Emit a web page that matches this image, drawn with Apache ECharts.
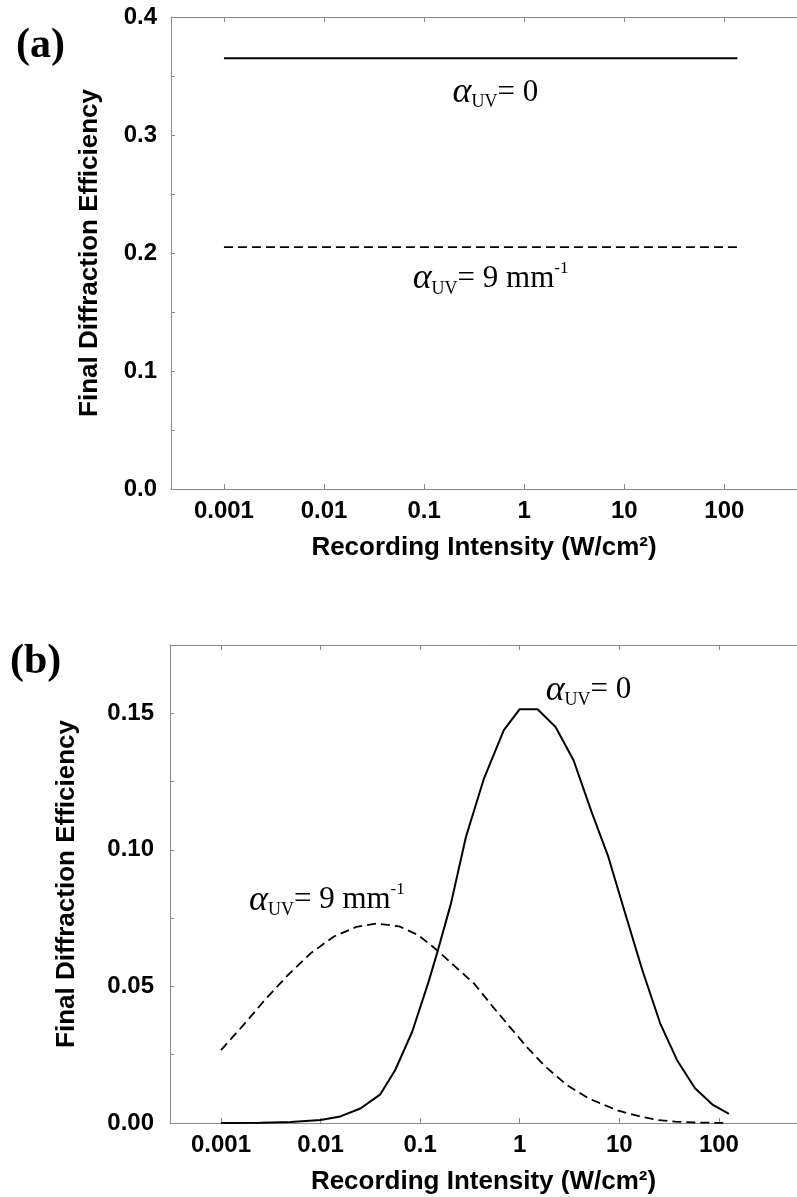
<!DOCTYPE html>
<html>
<head>
<meta charset="utf-8">
<script src="https://cdn.jsdelivr.net/npm/echarts@6/dist/echarts.min.js"></script>
<style>html,body{margin:0;padding:0;background:#fff}#c{width:797px;height:1197px}</style>
</head>
<body>
<div id="c"></div>
<script>
// ---------- data ----------
const xTickValues = [0.001, 0.01, 0.1, 1, 10, 100];
const xTickLabels = ['0.001', '0.01', '0.1', '1', '10', '100'];

const yTicksA = [0, 0.1, 0.2, 0.3, 0.4];
const yTickLabelsA = ['0.0', '0.1', '0.2', '0.3', '0.4'];
const yMinorA = [0, 0.05, 0.1, 0.15, 0.2, 0.25, 0.3, 0.35, 0.4];

const yTicksB = [0, 0.05, 0.1, 0.15];
const yTickLabelsB = ['0.00', '0.05', '0.10', '0.15'];
const yMinorB = [0, 0.025, 0.05, 0.075, 0.1, 0.125, 0.15, 0.175];

// panel (a)
const intensityA = [0.001, 135];
const etaA_uv0 = [0.365, 0.365];
const etaA_uv9 = [0.205, 0.205];

// panel (b)
const intensityB_uv0 = [0.001, 0.00251, 0.00501, 0.01, 0.0158, 0.0251, 0.0398, 0.0562, 0.0832, 0.120,
  0.151, 0.204, 0.288, 0.437, 0.692, 1.0, 1.51, 2.29, 3.47, 5.25, 7.76, 11.2, 17.0, 25.7, 38.0, 57.5, 87.1, 126];
const etaB_uv0 = [0, 0.0001, 0.0004, 0.0011, 0.0024, 0.0053, 0.0105, 0.0194, 0.0334, 0.0511,
  0.0633, 0.0804, 0.1047, 0.1261, 0.1438, 0.1515, 0.1515, 0.1450, 0.1328, 0.1140, 0.0974, 0.0779, 0.0560, 0.0365, 0.0230, 0.0127, 0.0066, 0.0033];

const intensityB_uv9 = [0.001, 0.00162, 0.00275, 0.00468, 0.00794, 0.0135, 0.0229, 0.0363, 0.0617, 0.0955,
  0.141, 0.229, 0.347, 0.525, 0.794, 1.20, 1.82, 2.95, 4.90, 9.77, 15.8, 24.0, 36.3, 55.0, 120];
const etaB_uv9 = [0.0267, 0.0352, 0.0450, 0.0541, 0.0621, 0.0682, 0.0718, 0.0730, 0.0720, 0.0688,
  0.0639, 0.0570, 0.0511, 0.0430, 0.0352, 0.0275, 0.0206, 0.0140, 0.0090, 0.0045, 0.0025, 0.0011, 0.0005, 0.0002, 0.0];

// annotation anchors (intensity, efficiency) and texts
const annA = [[0.19, 0.336, 'uv0'], [0.076, 0.178, 'uv9']];
const annB = [[1.8, 0.1584, 'uv0'], [0.00189, 0.0816, 'uv9']];
const panelLabels = ['(a)', '(b)'];
const xTitle = 'Recording Intensity (W/cm²)';
const yTitle = 'Final Diffraction Efficiency';

// ---------- helpers ----------
const lg = v => Math.log10(v);
const xTickLogs = xTickValues.map(lg);
const xFmt = v => { const i = xTickLogs.findIndex(t => Math.abs(t - v) < 1e-9); return i >= 0 ? xTickLabels[i] : ''; };
const mkFmt = (vals, labs) => v => { const i = vals.findIndex(t => Math.abs(t - v) < 1e-9); return i >= 0 ? labs[i] : ''; };
const pts = (xs, ys) => xs.map((x, i) => [lg(x), ys[i]]);

const AX = '#8a8a8a';
const SANS = 'Liberation Sans';
const SERIF = 'Liberation Serif';

const rich = {
  a: { fontFamily: SERIF, fontStyle: 'italic', fontSize: 36, color: '#000', lineHeight: 38, verticalAlign: 'middle' },
  s: { fontFamily: SERIF, fontSize: 18, color: '#000', lineHeight: 18, verticalAlign: 'bottom' },
  e: { fontFamily: SERIF, fontSize: 31, color: '#000', lineHeight: 38, verticalAlign: 'middle' },
  p: { fontFamily: SERIF, fontSize: 17, color: '#000', lineHeight: 20, verticalAlign: 'top' }
};
const annText = k => k === 'uv0' ? '{a|α}{s|UV}{e|= 0}' : '{a|α}{s|UV}{e|= 9 mm}{p|-1}';

function xAxes(grid, min, max) {
  const base = {
    gridIndex: grid, type: 'value', min: min, max: max,
    splitLine: { show: false },
    axisLine: { show: true, onZero: false, lineStyle: { color: AX, width: 1 } },
    axisTick: { show: true, inside: true, length: 5, customValues: xTickLogs, lineStyle: { color: AX } }
  };
  return [
    Object.assign({}, base, {
      position: 'bottom',
      axisLabel: { customValues: xTickLogs, formatter: xFmt, fontFamily: SANS, fontWeight: 'bold', fontSize: 24, color: '#000', margin: 10 },
      name: xTitle, nameLocation: 'middle', nameGap: 46,
      nameTextStyle: { fontFamily: SANS, fontWeight: 'bold', fontSize: 26, color: '#000' }
    }),
    Object.assign({}, base, { position: 'top', axisLabel: { show: false } })
  ];
}
function yAxis(grid, max, ticks, labels, minor, margin, gap) {
  return {
    gridIndex: grid, type: 'value', min: 0, max: max, position: 'left',
    splitLine: { show: false },
    axisLine: { show: true, onZero: false, lineStyle: { color: AX, width: 1 } },
    axisTick: { show: true, inside: true, length: 4, customValues: minor, lineStyle: { color: AX } },
    axisLabel: { customValues: ticks, formatter: mkFmt(ticks, labels), fontFamily: SANS, fontWeight: 'bold', fontSize: 24, color: '#000', margin: margin },
    name: yTitle, nameLocation: 'middle', nameRotate: 90, nameGap: gap,
    nameTextStyle: { fontFamily: SANS, fontWeight: 'bold', fontSize: 26, color: '#000' }
  };
}
function lineSeries(xi, yi, data, dashed) {
  return {
    type: 'line', xAxisIndex: xi, yAxisIndex: yi, data: data, symbol: 'none', smooth: false,
    lineStyle: { color: '#000', width: dashed ? 1.8 : 2, type: dashed ? [9, 5] : 'solid' },
    silent: true, animation: false
  };
}
function annSeries(xi, yi, list) {
  return {
    type: 'scatter', xAxisIndex: xi, yAxisIndex: yi, symbolSize: 1, silent: true, animation: false,
    itemStyle: { color: 'rgba(255,255,255,0)', opacity: 1 },
    data: list.map(a => ({ value: [lg(a[0]), a[1]], key: a[2] })),
    label: { show: true, position: 'right', distance: 0, color: '#000', opacity: 1, formatter: p => annText(p.data.key), rich: rich }
  };
}

const option = {
  backgroundColor: '#fff',
  animation: false,
  title: [
    { text: panelLabels[0], left: 11, top: 20, textStyle: { fontFamily: SERIF, fontWeight: 'bold', fontSize: 42, color: '#000' } },
    { text: panelLabels[1], left: 5, top: 636, textStyle: { fontFamily: SERIF, fontWeight: 'bold', fontSize: 42, color: '#000' } }
  ],
  grid: [
    { left: 171, right: -12, top: 17, height: 472 },
    { left: 170, right: -12, top: 645, height: 478 }
  ],
  xAxis: xAxes(0, -3.529, 2.726).concat(xAxes(1, -3.512, 2.784)),
  yAxis: [
    yAxis(0, 0.4, yTicksA, yTickLabelsA, yMinorA, 14, 68),
    yAxis(1, 0.175, yTicksB, yTickLabelsB, yMinorB, 16, 90)
  ],
  series: [
    lineSeries(0, 0, pts(intensityA, etaA_uv0), false),
    lineSeries(0, 0, pts(intensityA, etaA_uv9), true),
    annSeries(0, 0, annA),
    lineSeries(2, 1, pts(intensityB_uv0, etaB_uv0), false),
    lineSeries(2, 1, pts(intensityB_uv9, etaB_uv9), true),
    annSeries(2, 1, annB)
  ]
};
const chart = echarts.init(document.getElementById('c'), null, { renderer: 'canvas' });
chart.setOption(option);
</script>
</body>
</html>
